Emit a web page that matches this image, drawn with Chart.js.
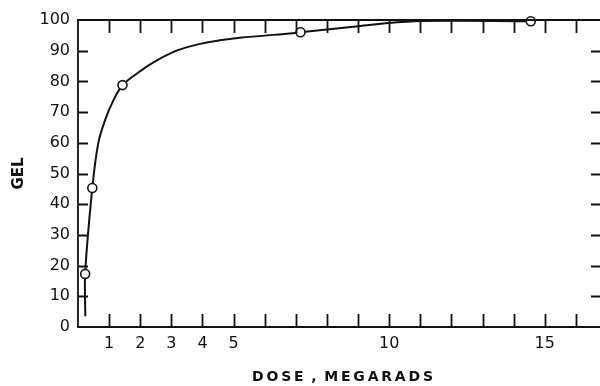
<!DOCTYPE html>
<html>
<head>
<meta charset="utf-8">
<script src="https://cdn.jsdelivr.net/npm/chart.js@4.4.0/dist/chart.umd.min.js"></script>
<style>
  html, body { margin: 0; padding: 0; background: #fff; overflow: hidden; }
  #wrap { width: 600px; height: 386px; overflow: hidden; }
</style>
</head>
<body>
<div id="wrap"><canvas id="myChart" width="620" height="386"></canvas></div>
<script>
// measured points (circles)
const pointDose = [0.23, 0.46, 1.43, 7.15, 14.55];
const pointGel = [17.3, 45.3, 78.8, 96.0, 99.6];

// smooth curve
const curveDose = [0.235, 0.23, 0.46, 0.65, 0.87, 1.14, 1.43, 1.83, 2.37, 3.07, 3.6, 4.14, 5.2, 6.9, 7.15, 9.0, 10.8, 14.55];
const curveGel = [3.5, 17.3, 45.3, 59.8, 67.4, 73.9, 78.8, 82.1, 85.9, 89.6, 91.4, 92.7, 94.2, 95.7, 96.0, 98.0, 99.6, 99.6];

// axes
const xTickValues = [1, 2, 3, 4, 5, 6, 7, 8, 9, 10, 11, 12, 13, 14, 15, 16];
const xTickLabels = [1, 2, 3, 4, 5, 10, 15];
const yTickValues = [10, 20, 30, 40, 50, 60, 70, 80, 90];
const yTickLabels = [0, 10, 20, 30, 40, 50, 60, 70, 80, 90, 100];

const FONT = "'DejaVu Sans', sans-serif";

// inward tick marks on all four sides
const innerTicks = {
  id: "innerTicks",
  afterDraw(chart) {
    const ctx = chart.ctx;
    const a = chart.chartArea;
    const x = chart.scales.x;
    const y = chart.scales.y;
    ctx.save();
    ctx.strokeStyle = "#111";
    ctx.lineWidth = 1.8;
    ctx.beginPath();
    ctx.rect(a.left, a.top, a.right - a.left, a.bottom - a.top);
    xTickValues.forEach((v) => {
      const px = Math.round(x.getPixelForValue(v)) + 0.5;
      ctx.moveTo(px, a.bottom);
      ctx.lineTo(px, a.bottom - 13);
      ctx.moveTo(px, a.top);
      ctx.lineTo(px, a.top + 13);
    });
    yTickValues.forEach((v) => {
      const py = Math.round(y.getPixelForValue(v)) + 0.5;
      ctx.moveTo(a.left, py);
      ctx.lineTo(a.left + 10, py);
      ctx.moveTo(a.right, py);
      ctx.lineTo(a.right - 16, py);
    });
    ctx.stroke();
    ctx.restore();
  },
};

const data = {
  datasets: [
    {
      label: "curve",
      data: curveDose.map((d, i) => ({ x: d, y: curveGel[i] })),
      showLine: true,
      borderColor: "#111",
      borderWidth: 2,
      pointRadius: 0,
      tension: 0.3,
      fill: false,
      order: 2,
    },
    {
      label: "points",
      data: pointDose.map((d, i) => ({ x: d, y: pointGel[i] })),
      showLine: false,
      pointRadius: 4.5,
      pointBackgroundColor: "#fff",
      pointBorderColor: "#111",
      pointBorderWidth: 1.6,
      order: 1,
    },
  ],
};

const config = {
  type: "scatter",
  data: data,
  plugins: [innerTicks],
  options: {
    responsive: false,
    animation: false,
    clip: false,
    layout: { padding: { left: 10, top: 20, right: 13, bottom: 0 } },
    plugins: { legend: { display: false }, tooltip: { enabled: false } },
    scales: {
      x: {
        type: "linear",
        min: 0,
        max: 17,
        grid: { display: false, drawTicks: false },
        border: { display: false },
        afterBuildTicks: (scale) => {
          scale.ticks = xTickLabels.map((v) => ({ value: v }));
        },
        afterFit: (scale) => {
          scale.height = 59;
        },
        ticks: {
          autoSkip: false,
          maxRotation: 0,
          padding: 7,
          color: "#111",
          font: { family: FONT, size: 16 },
        },
        title: {
          display: true,
          text: "D\u2009O\u2009S\u2009E\u2009 ,\u2009 M\u2009E\u2009G\u2009A\u2009R\u2009A\u2009D\u2009S",
          color: "#111",
          font: { family: FONT, size: 14, weight: "bold" },
          padding: { top: 6, bottom: 0 },
        },
      },
      y: {
        min: 0,
        max: 100,
        grid: { display: false, drawTicks: false },
        border: { display: false },
        afterBuildTicks: (scale) => {
          scale.ticks = yTickLabels.map((v) => ({ value: v }));
        },
        afterFit: (scale) => {
          scale.width = 68;
        },
        ticks: {
          padding: 8,
          color: "#111",
          font: { family: FONT, size: 16 },
        },
        title: {
          display: true,
          text: "GEL",
          color: "#111",
          font: { family: FONT, size: 15, weight: "bold" },
          padding: { top: 0, bottom: 4 },
        },
      },
    },
  },
};

const ctx = document.getElementById("myChart").getContext("2d");
new Chart(ctx, config);
</script>
</body>
</html>
